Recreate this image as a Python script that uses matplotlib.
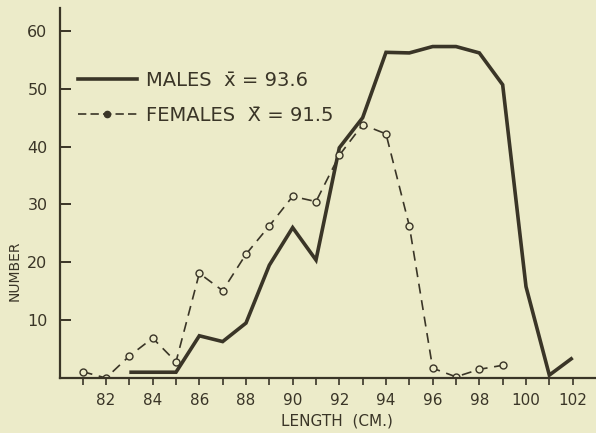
import numpy as np
import matplotlib
matplotlib.use('Agg')
import matplotlib.pyplot as plt
from matplotlib.lines import Line2D
from matplotlib.legend_handler import HandlerLine2D

# data
male_len = [83, 84, 85, 86, 87, 88, 89, 90, 91, 92, 93, 94, 95, 96, 97, 98, 99, 100, 101, 102]
male_num = [1, 1, 1, 7.3, 6.3, 9.5, 19.5, 26, 20.4, 39.8, 45, 56.3, 56.2, 57.3, 57.3, 56.2, 50.7, 15.8, 0.5, 3.5]

female_len = [81, 82, 83, 84, 85, 86, 87, 88, 89, 90, 91, 92, 93, 94, 95, 96, 97, 98, 99]
female_num = [1.1, 0, 3.8, 6.9, 2.8, 18.1, 15.1, 21.4, 26.3, 31.4, 30.5, 38.5, 43.8, 42.2, 26.3, 1.7, 0.2, 1.5, 2.2]

x_ticks = list(range(81, 103))
x_labels = [str(t) if t % 2 == 0 else '' for t in x_ticks]
y_ticks = [10, 20, 30, 40, 50, 60]

bg = '#ecebc9'
ink = '#3a3527'


class LeftDotHandler(HandlerLine2D):
    # legend marker sits near the left end of the handle
    def get_xdata(self, legend, xdescent, ydescent, width, height, fontsize):
        xdata, _ = super().get_xdata(legend, xdescent, ydescent, width, height, fontsize)
        return xdata, [xdata[0] + 0.24 * width]


fig = plt.figure(figsize=(5.96, 4.33), dpi=100, facecolor=bg)
ax = fig.add_axes([0.1007, 0.127, 0.8993, 0.855])
ax.set_facecolor(bg)

ax.plot(male_len, male_num, color=ink, lw=2.6, solid_joinstyle='miter',
        solid_capstyle='butt')
ax.plot(female_len, female_num, color=ink, lw=1.2, ls=(0, (6, 4)),
        marker='o', ms=5, mfc=bg, mec=ink, mew=1.0)

ax.set_xlim(80.03, 103)
ax.set_ylim(0, 64)

for s in ['top', 'right']:
    ax.spines[s].set_visible(False)
for s in ['left', 'bottom']:
    ax.spines[s].set_color(ink)
    ax.spines[s].set_linewidth(1.6)

ax.set_xticks(x_ticks)
ax.set_xticklabels(x_labels)
ax.set_yticks(y_ticks)
ax.tick_params(axis='x', direction='out', length=5, width=1.2, colors=ink,
               labelsize=11, pad=6)
ax.tick_params(axis='y', direction='in', length=8, width=1.4, colors=ink,
               labelsize=11.5, pad=9)

ax.set_ylabel('NUMBER', fontsize=10, color=ink)
ax.yaxis.set_label_coords(-0.071, 0.29)
ax.set_xlabel('LENGTH  (CM.)', fontsize=11, color=ink)
ax.xaxis.set_label_coords(0.517, -0.095)

h_male = Line2D([], [], color=ink, lw=2.6)
h_female = Line2D([], [], color=ink, lw=1.2, ls=(0, (5, 2.5)),
                  marker='o', ms=4.5, mfc=ink, mec=ink)
ax.legend([h_male, h_female],
          ['MALES  x\u0304 = 93.6', 'FEMALES  X\u0304 = 91.5'],
          handler_map={h_female: LeftDotHandler(numpoints=1)},
          loc='upper left', bbox_to_anchor=(0.034, 0.83), frameon=False,
          fontsize=14, labelcolor=ink, handlelength=3.0, handletextpad=0.5,
          labelspacing=0.85, borderpad=0, borderaxespad=0)

fig.savefig('out.png', dpi=100, facecolor=bg)
